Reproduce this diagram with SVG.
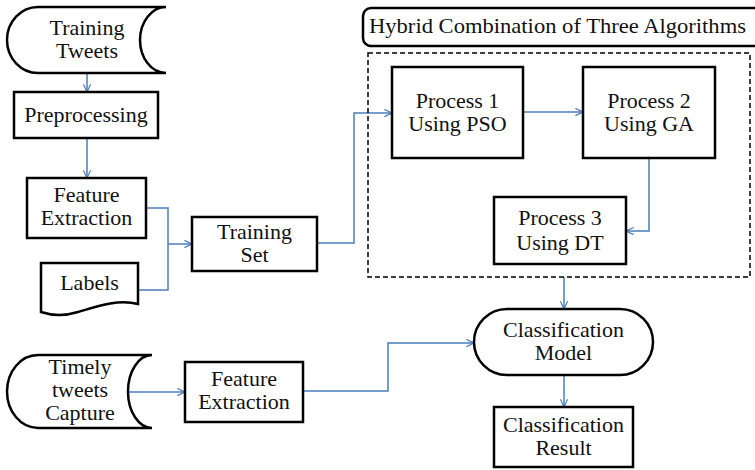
<svg xmlns="http://www.w3.org/2000/svg" width="755" height="470" viewBox="0 0 755 470">
<defs>
<style>
.n{fill:#fff;stroke:#000;stroke-width:2.5}
.t{font-family:"Liberation Serif","Times New Roman",serif;font-size:22px;fill:#111;text-anchor:middle}
.c{fill:none;stroke:#4a7ebb;stroke-width:1.5;marker-end:url(#a)}
</style>
<marker id="a" viewBox="0 0 10 10" refX="9.5" refY="5" markerWidth="9" markerHeight="9" markerUnits="userSpaceOnUse" orient="auto">
<path d="M1 1 L9.5 5 L1 9" fill="none" stroke="#4a7ebb" stroke-width="1.3"/>
</marker>
</defs>
<rect width="755" height="470" fill="#fff"/>
<g id="connectors">
<path class="c" d="M87 73 V92"/>
<path class="c" d="M87 138 V178"/>
<path fill="none" stroke="#4a7ebb" stroke-width="1.5" d="M146 208 H168 V290 H138"/>
<path class="c" d="M168 244 H192"/>
<path class="c" d="M317 243 H354 V113 H392"/>
<path class="c" d="M523 112 H583"/>
<path class="c" d="M649 158 V231 H626"/>
<path class="c" d="M564 277 V309"/>
<path class="c" d="M564 375 V407"/>
<path class="c" d="M128 392 H185"/>
<path class="c" d="M303 391 H388 V343 H474"/>
</g>
<g id="hybrid">
<rect x="363" y="8" width="400" height="38" rx="8" class="n" stroke-width="2"/>
<text x="369" y="33" class="t" style="text-anchor:start" textLength="377" lengthAdjust="spacingAndGlyphs">Hybrid Combination of Three Algorithms</text>
</g>
<g id="group">
<rect x="368" y="53" width="382" height="224" fill="none" stroke="#000" stroke-width="1.5" stroke-dasharray="5,3"/>
</g>
<g id="training-tweets">
<path class="n" d="M38 7 H166 A26 33 0 0 0 166 73 H38 A31 33 0 0 1 38 7 Z"/>
<text x="87" y="35" class="t">Training</text>
<text x="87" y="58" class="t">Tweets</text>
</g>
<g id="preprocessing">
<rect x="14" y="92" width="144" height="46" class="n"/>
<text x="86" y="122" class="t">Preprocessing</text>
</g>
<g id="feature-extraction-1">
<rect x="27" y="178" width="119" height="60" class="n"/>
<text x="86.5" y="202" class="t">Feature</text>
<text x="86.5" y="225" class="t">Extraction</text>
</g>
<g id="labels">
<path class="n" d="M41 263 H138 V304 C118 299 98 306 78 312 C62 317 50 315 41 312 Z"/>
<text x="89.5" y="290" class="t">Labels</text>
</g>
<g id="training-set">
<rect x="192" y="217" width="125" height="54" class="n"/>
<text x="254.5" y="239" class="t">Training</text>
<text x="254.5" y="262" class="t">Set</text>
</g>
<g id="process1">
<rect x="392" y="67" width="131" height="91" class="n"/>
<text x="457.5" y="108" class="t">Process 1</text>
<text x="457.5" y="131" class="t">Using PSO</text>
</g>
<g id="process2">
<rect x="583" y="67" width="132" height="91" class="n"/>
<text x="649" y="108" class="t">Process 2</text>
<text x="649" y="131" class="t">Using GA</text>
</g>
<g id="process3">
<rect x="494" y="197" width="132" height="67" class="n"/>
<text x="560" y="225" class="t">Process 3</text>
<text x="560" y="250" class="t">Using DT</text>
</g>
<g id="classification-model">
<rect x="474" y="309" width="179" height="66" rx="33" class="n"/>
<text x="563.5" y="337" class="t">Classification</text>
<text x="563.5" y="360" class="t">Model</text>
</g>
<g id="classification-result">
<rect x="494" y="407" width="139" height="60" class="n"/>
<text x="563.5" y="432" class="t">Classification</text>
<text x="563.5" y="455" class="t">Result</text>
</g>
<g id="timely-tweets">
<path class="n" d="M38 355 H152 A24 36.5 0 0 0 152 428 H38 A31 36.5 0 0 1 38 355 Z"/>
<text x="80" y="374" class="t" font-size="21">Timely</text>
<text x="80" y="397" class="t" font-size="21">tweets</text>
<text x="80" y="420" class="t" font-size="21">Capture</text>
</g>
<g id="feature-extraction-2">
<rect x="185" y="362" width="118" height="60" class="n"/>
<text x="244" y="386" class="t">Feature</text>
<text x="244" y="409" class="t">Extraction</text>
</g>
</svg>
